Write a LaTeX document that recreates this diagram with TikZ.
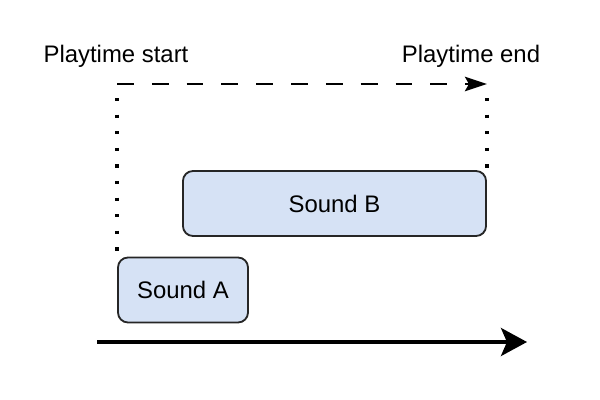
\documentclass[tikz,border=0pt]{standalone}
\usepackage{fontspec}
\setmainfont{Liberation Sans}
\usepackage{xcolor}
\usepackage{tikz}
\usetikzlibrary{arrows.meta, positioning}

\definecolor{soundfill}{RGB}{214,226,245}

\begin{document}
\begin{tikzpicture}[
x=0.025cm, y=-0.025cm,
every node/.style={font=\fontsize{17}{20}\selectfont},
sound/.style={
    draw=black!85, line width=1.3pt, rounded corners=0.25cm,
    fill=soundfill, inner sep=0pt, minimum height=1.625cm
},
label/.style={anchor=base},
dotline/.style={line width=2.3pt, dash pattern=on 2.3pt off 9.5pt},
dasharrow/.style={-{Stealth[length=0.55cm, width=0.36cm, inset=0.1cm]},
    line width=1.7pt, dash pattern=on 0.42cm off 0.45cm},
timearrow/.style={-{Stealth[length=0.65cm, width=0.7cm, inset=0.15cm]},
    line width=2.7pt}
]
\useasboundingbox (0,0) rectangle (600,400);

\node (soundA) [sound, minimum width=3.25cm] at (183,290) {Sound A};
\node (soundB) [sound, minimum width=7.575cm] at (334.5,203.5) {Sound B};

\node (start) [label] at (116,63) {Playtime start};
\node (end) [label] at (471,63) {Playtime end};

\coordinate (pstart) at (soundA.north west |- 0,84);
\coordinate (pend) at (soundB.north east |- 0,84);

\coordinate (t0) at (97,342);
\coordinate (t1) at (527,342);

\draw[dotline] ([yshift=-0.35cm]pstart) -- (soundA.north west);
\draw[dotline] ([yshift=-0.35cm]pend) -- (soundB.north east);

\draw[dasharrow] (pstart) -- (pend);

\draw[timearrow] (t0) -- (t1);

\end{tikzpicture}
\end{document}
